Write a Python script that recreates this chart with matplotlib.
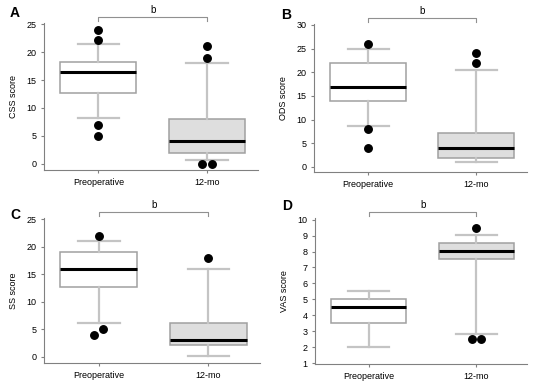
import numpy as np
import matplotlib
matplotlib.use("Agg")
from matplotlib import pyplot as plt

plt.rcParams['font.family'] = ['Liberation Sans', 'DejaVu Sans']

groups = ["Preoperative", "12-mo"]
panels = ["A", "B", "C", "D"]
ylabels = ["CSS score", "ODS score", "SS score", "VAS score"]
yticks = [np.arange(0, 26, 5), np.arange(0, 31, 5), np.arange(0, 26, 5), np.arange(1, 11, 1)]
ylims = [(-1.1, 25.2), (-1.1, 30.2), (-1.1, 25.2), (0.95, 10.1)]

# box stats: (whislo, q1, med, q3, whishi)
css_pre = (8.2, 12.6, 16.5, 18.2, 21.5)
css_12 = (0.7, 2.0, 4.0, 8.0, 18.0)
ods_pre = (8.7, 14.0, 16.8, 22.0, 25.0)
ods_12 = (1.1, 1.9, 4.0, 7.1, 20.4)
ss_pre = (6.2, 12.7, 16.0, 19.0, 21.0)
ss_12 = (0.2, 2.1, 3.0, 6.1, 16.0)
vas_pre = (2.0, 3.5, 4.5, 5.0, 5.5)
vas_12 = (2.8, 7.5, 8.05, 8.55, 9.05)

# outliers
css_pre_out = [24, 22.2, 7, 5]
css_12_out = [21, 19, 0, 0]
ods_pre_out = [26, 8, 4]
ods_12_out = [24, 22]
ss_pre_out = [22, 4, 5]
ss_12_out = [18]
vas_pre_out = []
vas_12_out = [9.5, 2.5, 2.5]

stats = [(css_pre, css_12), (ods_pre, ods_12), (ss_pre, ss_12), (vas_pre, vas_12)]
outs = [(css_pre_out, css_12_out), (ods_pre_out, ods_12_out),
        (ss_pre_out, ss_12_out), (vas_pre_out, vas_12_out)]

# axes rectangles in pixels (left, top, right, bottom)
rects = [(44, 23, 258, 170), (314, 24, 527, 172), (44, 218, 260, 363), (315, 218, 527, 364)]
letter_pos = [(10, 13), (281, 15), (10, 215), (282, 206)]

W, H = 541, 386
fig = plt.figure(figsize=(W / 100, H / 100), dpi=100)

edge = '#a0a0a0'
whisk = '#c4c4c4'
axc = '#808080'
fills = ['white', '#dedede']

for i in range(4):
    l, t, r, b = rects[i]
    ax = fig.add_axes([l / W, 1 - b / H, (r - l) / W, (b - t) / H])
    bx = []
    for j in range(2):
        lo, q1, med, q3, hi = stats[i][j]
        bx.append(dict(whislo=lo, q1=q1, med=med, q3=q3, whishi=hi, fliers=[], label=groups[j]))
    art = ax.bxp(bx, positions=[1, 2], widths=0.7, patch_artist=True, showfliers=False,
                 boxprops=dict(edgecolor=edge, linewidth=1.1),
                 whiskerprops=dict(color=whisk, linewidth=1.6),
                 capprops=dict(color=whisk, linewidth=1.6),
                 medianprops=dict(color='black', linewidth=2.2))
    for patch, fc in zip(art['boxes'], fills):
        patch.set_facecolor(fc)
    for cap in art['caps']:
        c = cap.get_xdata().mean()
        cap.set_xdata([c - 0.19, c + 0.19])

    ax.set_xlim(0.5, 2.47)
    ax.set_ylim(*ylims[i])
    yr = ylims[i][1] - ylims[i][0]
    for j in range(2):
        vals = sorted(outs[i][j])
        # dodge overlapping outliers sideways
        k = 0
        while k < len(vals):
            grp = [vals[k]]
            while k + len(grp) < len(vals) and vals[k + len(grp)] - grp[0] < 0.045 * yr:
                grp.append(vals[k + len(grp)])
            n = len(grp)
            offs = (np.arange(n) - (n - 1) / 2) * 0.085
            ax.plot(j + 1 + offs, grp, 'o', color='black', markersize=5.4, zorder=5)
            k += n

    ax.set_yticks(yticks[i])
    ax.set_xticks([1, 2])
    ax.set_xticklabels(groups)
    ax.set_ylabel(ylabels[i], fontsize=6.5, labelpad=6)
    ax.tick_params(labelsize=6.5, length=2.5, width=0.8, color=axc, pad=3)
    for s in ['top', 'right']:
        ax.spines[s].set_visible(False)
    for s in ['left', 'bottom']:
        ax.spines[s].set_color(axc)
        ax.spines[s].set_linewidth(0.8)

    # significance bracket
    ytop = 1 + 6 / (b - t)
    trans = ax.get_xaxis_transform()
    ax.plot([1, 1, 2, 2], [ytop - 4 / (b - t), ytop, ytop, ytop - 4 / (b - t)],
            color='#909090', linewidth=0.8, transform=trans, clip_on=False)
    ax.text(1.5, ytop + 2 / (b - t), 'b', transform=trans, ha='center', va='bottom', fontsize=7)

    lx, ly = letter_pos[i]
    fig.text(lx / W, 1 - ly / H, panels[i], fontsize=10, fontweight='bold', ha='left', va='center')

fig.savefig('out.png', dpi=100)
